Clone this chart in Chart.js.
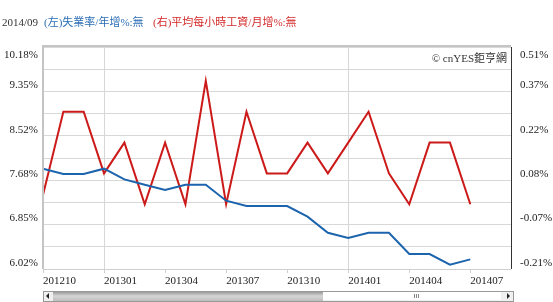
<!DOCTYPE html>
<html>
<head>
<meta charset="utf-8">
<script src="https://cdn.jsdelivr.net/npm/chart.js@4/dist/chart.umd.min.js"></script>
<style>
  html, body { margin: 0; padding: 0; background: #fff; }
  canvas { display: block; }
</style>
</head>
<body>
<canvas id="chart" width="553" height="302"></canvas>
<script>
// months shown on the axis (data stops at 201407)
const months = ['201210','201211','201212','201301','201302','201303','201304','201305','201306',
  '201307','201308','201309','201310','201311','201312','201401','201402','201403','201404',
  '201405','201406','201407','201408','201409']
// (左) 失業率 %
const unemployment = [7.9,7.8,7.8,7.9,7.7,7.6,7.5,7.6,7.6,7.3,7.2,7.2,7.2,7.0,6.7,6.6,6.7,6.7,6.3,6.3,6.1,6.2]
// (右) 平均每小時工資 月增 %
const wageGrowth = [0.03,0.3,0.3,0.1,0.2,0.0,0.2,0.0,0.4,0.0,0.3,0.1,0.1,0.2,0.1,0.2,0.3,0.1,0.0,0.2,0.2,0.0]

const leftLabels = ['10.18%','9.35%','8.52%','7.68%','6.85%','6.02%']
const rightLabels = ['0.51%','0.37%','0.22%','0.08%','-0.07%','-0.21%']
const leftMin = 6.02, leftMax = 10.18
const rightMin = -0.21, rightMax = 0.51

const serif = '"Liberation Serif", "Noto Sans CJK TC", serif'
const blue = '#1c64ad'
const red = '#cc1a1a'

function gridValues(min, max) {
    let out = []
    for (let k = 0; k <= 10; k++) out.push(min + (max - min) * k / 10)
    return out
}

const decor = {
    id: 'decor',
    afterDraw(chart) {
        const ctx = chart.ctx
        const {left, right, top, bottom} = chart.chartArea
        ctx.save()
        // title row
        ctx.textBaseline = 'middle'
        ctx.font = '11px ' + serif
        ctx.fillStyle = '#333'
        ctx.fillText('2014/09', 2, 23)
        ctx.fillStyle = '#2b6db5'
        ctx.fillText('(左)失業率/年增%:無', 44, 23)
        ctx.fillStyle = '#d42a2a'
        ctx.fillText('(右)平均每小時工資/月增%:無', 153, 23)

        // y labels, sitting just above their grid line
        const yl = chart.scales.yL, yr = chart.scales.yR
        ctx.fillStyle = '#222'
        leftLabels.forEach((t, k) => {
            let v = leftMax - k * (leftMax - leftMin) / 5
            let y = k == 0 ? top + 8 : yl.getPixelForValue(v) - 6
            ctx.textAlign = 'right'
            ctx.fillText(t, 38, y)
        })
        rightLabels.forEach((t, k) => {
            let v = rightMax - k * (rightMax - rightMin) / 5
            let y = k == 0 ? top + 8 : yr.getPixelForValue(v) - 6
            ctx.textAlign = 'left'
            ctx.fillText(t, 520, y)
        })

        // watermark
        ctx.textAlign = 'right'
        ctx.fillStyle = '#333'
        ctx.fillText('© cnYES鉅亨網', right - 4, top + 12)

        // plot frame
        ctx.strokeStyle = '#c4c4c4'
        ctx.lineWidth = 2
        ctx.beginPath()
        ctx.moveTo(left, bottom); ctx.lineTo(left, top - 1); ctx.lineTo(right, top - 1)
        ctx.stroke()
        ctx.lineWidth = 1
        ctx.strokeStyle = '#cfcfcf'
        ctx.beginPath()
        ctx.moveTo(left, bottom + 0.5); ctx.lineTo(right, bottom + 0.5)
        ctx.stroke()
        ctx.strokeStyle = '#333'
        ctx.beginPath()
        ctx.moveTo(right + 0.5, top); ctx.lineTo(right + 0.5, bottom)
        ctx.stroke()

        // scrollbar
        const sy = 291, sh = 10
        ctx.fillStyle = '#f0f0f0'
        ctx.fillRect(left, sy, right + 2 - left, sh)
        const g = ctx.createLinearGradient(0, sy, 0, sy + sh)
        g.addColorStop(0, '#8a8a8a'); g.addColorStop(0.5, '#d6d6d6'); g.addColorStop(1, '#bdbdbd')
        ctx.fillStyle = g
        ctx.fillRect(left + 10, sy, 270, sh)
        ctx.fillStyle = '#fff'
        ctx.fillRect(left + 280, sy + 1, right - 10 - (left + 280), sh - 2)
        ctx.strokeStyle = '#999'
        ctx.strokeRect(left + 0.5, sy + 0.5, right + 2 - left, sh)
        ctx.strokeStyle = '#888'
        for (let i = 0; i < 3; i++) {
            ctx.beginPath()
            ctx.moveTo(414 + i * 2 + 0.5, sy + 3); ctx.lineTo(414 + i * 2 + 0.5, sy + 7)
            ctx.stroke()
        }
        ctx.fillStyle = '#222'
        ctx.beginPath()
        ctx.moveTo(left + 3, sy + 5); ctx.lineTo(left + 6, sy + 2); ctx.lineTo(left + 6, sy + 8); ctx.fill()
        ctx.beginPath()
        ctx.moveTo(right - 1, sy + 5); ctx.lineTo(right - 4, sy + 2); ctx.lineTo(right - 4, sy + 8); ctx.fill()
        ctx.restore()
    }
}

new Chart('chart', {
    type: 'line',
    data: {
        labels: months,
        datasets: [{
            label: '失業率',
            data: unemployment,
            yAxisID: 'yL',
            borderColor: blue,
            borderWidth: 2,
            pointRadius: 0,
            tension: 0,
            fill: false
        }, {
            label: '平均每小時工資',
            data: wageGrowth,
            yAxisID: 'yR',
            borderColor: red,
            borderWidth: 2,
            pointRadius: 0,
            tension: 0,
            fill: false
        }]
    },
    options: {
        responsive: false,
        animation: false,
        layout: {padding: {top: 47, left: 0, right: 0, bottom: 0}},
        plugins: {legend: {display: false}, tooltip: {enabled: false}},
        scales: {
            x: {
                offset: false,
                border: {display: false},
                grid: {
                    color: c => months[c.index] && months[c.index].endsWith('01') ? '#d6d6d6' : 'rgba(0,0,0,0)',
                    tickColor: c => c.index % 3 == 0 ? '#cfcfcf' : 'rgba(0,0,0,0)',
                    tickLength: 4
                },
                ticks: {
                    autoSkip: false,
                    maxRotation: 0,
                    minRotation: 0,
                    align: 'start',
                    padding: 2,
                    color: '#222',
                    font: {family: serif, size: 11},
                    callback: (v, i) => i % 3 == 0 && i < 22 ? months[i] : ''
                },
                afterFit: s => { s.height = 33 }
            },
            yL: {
                position: 'left',
                min: leftMin,
                max: leftMax,
                border: {display: false},
                grid: {color: '#d8d8d8', drawTicks: false},
                ticks: {display: false},
                afterBuildTicks: s => { s.ticks = gridValues(leftMin, leftMax).map(v => ({value: v})) },
                afterFit: s => { s.width = 43 }
            },
            yR: {
                position: 'right',
                min: rightMin,
                max: rightMax,
                border: {display: false},
                grid: {drawOnChartArea: false, drawTicks: false},
                ticks: {display: false},
                afterBuildTicks: s => { s.ticks = gridValues(rightMin, rightMax).map(v => ({value: v})) },
                afterFit: s => { s.width = 42 }
            }
        }
    },
    plugins: [decor]
})
</script>
</body>
</html>
